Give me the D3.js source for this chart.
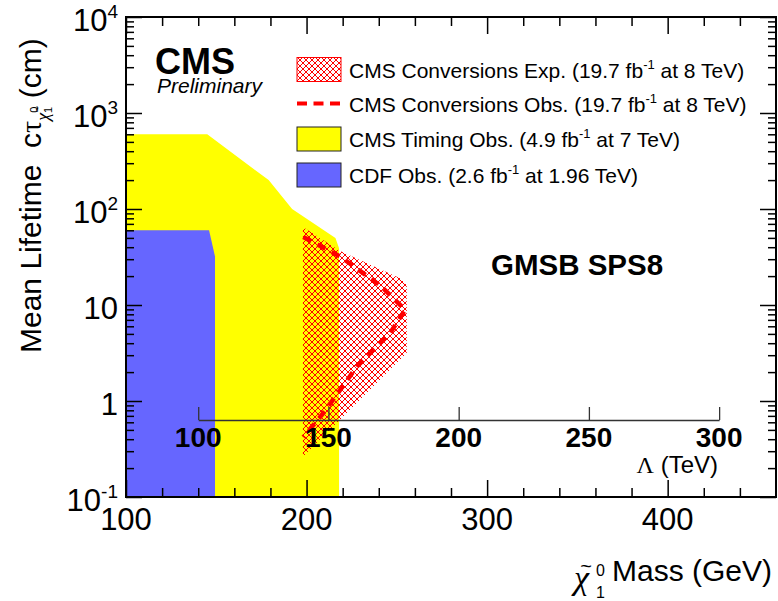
<!DOCTYPE html>
<html>
<head>
<meta charset="utf-8">
<script src="https://cdn.jsdelivr.net/npm/d3@7"></script>
<style>
  body { margin: 0; background: #fff; }
  svg { display: block; font-family: "Liberation Sans", Arial, sans-serif; }
</style>
</head>
<body>
<svg class="chart" width="778" height="601"></svg>
<script>
// CMS timing observed exclusion (mass GeV, c tau cm)
var timingMass = [100, 145, 179, 192, 216, 218, 218, 100];
var timingCtau = [600, 600, 200, 100, 50, 39, 0.1, 0.1];

// CDF observed exclusion
var cdfMass = [100, 146, 149.3, 149.3, 100];
var cdfCtau = [60, 60, 32, 0.1, 0.1];

// CMS conversions expected (hatched band)
var expMass = [198, 218.6, 251.8, 255.5, 255.5, 198];
var expCtau = [65, 36.5, 19, 16.2, 3.16, 0.26];

// CMS conversions observed (dashed contour)
var obsMass = [198.2, 218.6, 240.7, 254.6, 246.3, 227.8, 218.6, 209.3, 198.2];
var obsCtau = [51, 32, 16, 8.9, 5.1, 2.28, 1.3, 0.75, 0.42];

var massTicks = [100, 200, 300, 400];
var ctauTicks = [0.1, 1, 10, 100, 1000, 10000];
var ctauTickBase = ["10", "1", "10", "10", "10", "10"];
var ctauTickExp = ["-1", "", "", "2", "3", "4"];

var lambdaTicks = [100, 150, 200, 250, 300];
var lambdaMass = [140, 428.5];   // mass matching lambda 100 and 300

var legendLabels = [
  ["CMS Conversions Exp. (19.7 fb", "-1", " at 8 TeV)"],
  ["CMS Conversions Obs. (19.7 fb", "-1", " at 8 TeV)"],
  ["CMS Timing Obs. (4.9 fb", "-1", " at 7 TeV)"],
  ["CDF Obs. (2.6 fb", "-1", " at 1.96 TeV)"]
];

var fLeft = 126, fTop = 17, fRight = 776, fBottom = 497;

var svg = d3.select('.chart');

var x = d3.scaleLinear().domain([100, 460]).range([fLeft, fRight]);
var y = d3.scaleLog().domain([0.1, 10000]).range([fBottom, fTop]);

var defs = svg.append('defs');
var pat = defs.append('pattern')
  .attr('id', 'hatch')
  .attr('patternUnits', 'userSpaceOnUse')
  .attr('width', 6).attr('height', 6);
pat.append('path')
  .attr('d', 'M0,0L6,6M0,6L6,0')
  .attr('stroke', '#ff0000').attr('stroke-width', 1.3)
  .attr('shape-rendering', 'crispEdges');

defs.append('clipPath').attr('id', 'frame')
  .append('rect').attr('x', fLeft).attr('y', fTop)
  .attr('width', fRight - fLeft).attr('height', fBottom - fTop);

function pts(ms, cs) {
  return ms.map(function(m, i) { return [x(m), y(cs[i])]; });
}

var line = d3.line();
var plot = svg.append('g').attr('clip-path', 'url(#frame)');

plot.append('path')
  .attr('d', line(pts(timingMass, timingCtau)) + 'Z')
  .style('fill', '#ffff00');

plot.append('path')
  .attr('d', line(pts(cdfMass, cdfCtau)) + 'Z')
  .style('fill', '#6666ff');

plot.append('path')
  .attr('d', line(pts(expMass, expCtau)) + 'Z')
  .style('fill', 'url(#hatch)');

plot.append('path')
  .attr('d', line(pts(obsMass, obsCtau)))
  .style('fill', 'none')
  .style('stroke', '#ff0000')
  .style('stroke-width', 4.5)
  .style('stroke-dasharray', '9,7');

// inner lambda axis
var lam = d3.scaleLinear().domain([100, 300]).range([x(lambdaMass[0]), x(lambdaMass[1])]);
var lamY = 420;
var lamAxis = svg.append('g')
  .attr('transform', 'translate(0,' + lamY + ')')
  .call(d3.axisBottom(lam).tickValues(lambdaTicks).tickSize(-13).tickSizeOuter(0).tickFormat(''));
lamAxis.selectAll('path, line').attr('stroke', '#333').attr('stroke-width', 1.3);
lamAxis.selectAll('text').remove();
svg.append('g').selectAll('text')
  .data(lambdaTicks).enter().append('text')
  .attr('x', function(d) { return lam(d); })
  .attr('y', lamY + 27)
  .attr('text-anchor', 'middle')
  .style('font-size', '28px').style('font-weight', 'bold')
  .text(function(d) { return d; });
svg.append('text')
  .attr('x', 718).attr('y', 473)
  .attr('text-anchor', 'end')
  .style('font-size', '24px')
  .html('<tspan style="font-family:\'Liberation Serif\',serif">\u039b</tspan> (TeV)');

// axes with ticks on all four sides
function minorMass() {
  var v = [];
  for (var m = 120; m < 460; m += 20) if (m % 100 !== 0) v.push(m);
  return v;
}
function minorCtau() {
  var v = [];
  ctauTicks.slice(0, -1).forEach(function(d) {
    for (var k = 2; k < 10; k++) v.push(d * k);
  });
  return v;
}

function styleAxis(g) {
  g.select('.domain').remove();
  g.selectAll('line').attr('stroke', '#000').attr('stroke-width', 1.5);
  g.selectAll('text').remove();
}

svg.append('g').attr('transform', 'translate(0,' + fBottom + ')')
  .call(d3.axisBottom(x).tickValues(massTicks).tickSize(-17).tickSizeOuter(0)).call(styleAxis);
svg.append('g').attr('transform', 'translate(0,' + fBottom + ')')
  .call(d3.axisBottom(x).tickValues(minorMass()).tickSize(-9).tickSizeOuter(0)).call(styleAxis);
svg.append('g').attr('transform', 'translate(0,' + fTop + ')')
  .call(d3.axisTop(x).tickValues(massTicks).tickSize(-17).tickSizeOuter(0)).call(styleAxis);
svg.append('g').attr('transform', 'translate(0,' + fTop + ')')
  .call(d3.axisTop(x).tickValues(minorMass()).tickSize(-9).tickSizeOuter(0)).call(styleAxis);
svg.append('g').attr('transform', 'translate(' + fLeft + ',0)')
  .call(d3.axisLeft(y).tickValues(ctauTicks).tickSize(-16).tickSizeOuter(0)).call(styleAxis);
svg.append('g').attr('transform', 'translate(' + fLeft + ',0)')
  .call(d3.axisLeft(y).tickValues(minorCtau()).tickSize(-8).tickSizeOuter(0)).call(styleAxis);
svg.append('g').attr('transform', 'translate(' + fRight + ',0)')
  .call(d3.axisRight(y).tickValues(ctauTicks).tickSize(-16).tickSizeOuter(0)).call(styleAxis);
svg.append('g').attr('transform', 'translate(' + fRight + ',0)')
  .call(d3.axisRight(y).tickValues(minorCtau()).tickSize(-8).tickSizeOuter(0)).call(styleAxis);

svg.append('rect')
  .attr('x', fLeft).attr('y', fTop)
  .attr('width', fRight - fLeft).attr('height', fBottom - fTop)
  .style('fill', 'none').style('stroke', '#000').style('stroke-width', 2);

// tick labels
svg.append('g').selectAll('text').data(massTicks).enter().append('text')
  .attr('x', function(d) { return x(d); })
  .attr('y', 530)
  .attr('text-anchor', 'middle')
  .style('font-size', '31px')
  .text(function(d) { return d; });

var ylab = svg.append('g').selectAll('text').data(ctauTicks).enter().append('text')
  .attr('x', 118)
  .attr('y', function(d) { return y(d) + 14; })
  .attr('text-anchor', 'end')
  .style('font-size', '31px');
ylab.append('tspan').text(function(d, i) { return ctauTickBase[i]; });
ylab.append('tspan')
  .attr('dy', -13)
  .style('font-size', '19px')
  .text(function(d, i) { return ctauTickExp[i]; });

// axis titles
var yt = svg.append('text')
  .attr('transform', 'translate(41,353) rotate(-90)')
  .style('font-size', '30px');
yt.append('tspan').text('Mean Lifetime\u00a0\u00a0c');
yt.append('tspan').style('font-family', '"Liberation Serif", serif').text('\u03c4');
yt.append('tspan').attr('dy', 8).style('font-size', '18px')
  .style('font-family', '"Liberation Serif", serif').style('font-style', 'italic').text('\u03c7\u0303');
yt.append('tspan').attr('dy', 3).style('font-size', '11px').text('1');
yt.append('tspan').attr('dx', -6).attr('dy', -14).style('font-size', '11px').text('0');
yt.append('tspan').attr('dy', 3).text(' (cm)');

svg.append('text')
  .attr('x', 772).attr('y', 581)
  .attr('text-anchor', 'end')
  .style('font-size', '30px')
  .text('Mass (GeV)');
svg.append('text')
  .attr('x', 574).attr('y', 589)
  .style('font-size', '34px')
  .style('font-family', '"Liberation Serif", serif')
  .style('font-style', 'italic')
  .text('\u03c7');
svg.append('text')
  .attr('x', 586).attr('y', 573)
  .attr('text-anchor', 'middle')
  .style('font-size', '20px')
  .text('~');
svg.append('text')
  .attr('x', 596).attr('y', 576)
  .style('font-size', '16px')
  .text('0');
svg.append('text')
  .attr('x', 596).attr('y', 598)
  .style('font-size', '16px')
  .text('1');

// CMS label
svg.append('text')
  .attr('x', 155).attr('y', 74)
  .style('font-size', '36px').style('font-weight', 'bold')
  .text('CMS');
svg.append('text')
  .attr('x', 157).attr('y', 93)
  .style('font-size', '21px').style('font-style', 'italic')
  .text('Preliminary');

svg.append('text')
  .attr('x', 491).attr('y', 275)
  .style('font-size', '29.5px').style('font-weight', 'bold')
  .text('GMSB SPS8');

// legend
var legendY = [69.5, 103.5, 139, 175];
var leg = svg.append('g');
leg.append('rect')
  .attr('x', 297).attr('y', legendY[0] - 12).attr('width', 44).attr('height', 24)
  .style('fill', 'url(#hatch)').style('stroke', '#ff0000').style('stroke-width', 1);
leg.append('line')
  .attr('x1', 297).attr('x2', 341).attr('y1', legendY[1]).attr('y2', legendY[1])
  .style('stroke', '#ff0000').style('stroke-width', 4).style('stroke-dasharray', '10,6.5');
leg.append('rect')
  .attr('x', 297).attr('y', legendY[2] - 12).attr('width', 44).attr('height', 24)
  .style('fill', '#ffff00').style('stroke', '#222').style('stroke-width', 1);
leg.append('rect')
  .attr('x', 297).attr('y', legendY[3] - 12).attr('width', 44).attr('height', 24)
  .style('fill', '#6666ff').style('stroke', '#222').style('stroke-width', 1);

var lt = leg.selectAll('.lt').data(legendLabels).enter().append('text')
  .attr('x', 349)
  .attr('y', function(d, i) { return legendY[i] + 8; })
  .style('font-size', '21px');
lt.append('tspan').text(function(d) { return d[0]; });
lt.append('tspan').attr('dy', -9).style('font-size', '13px').text(function(d) { return d[1]; });
lt.append('tspan').attr('dy', 9).text(function(d) { return d[2]; });
</script>
</body>
</html>
